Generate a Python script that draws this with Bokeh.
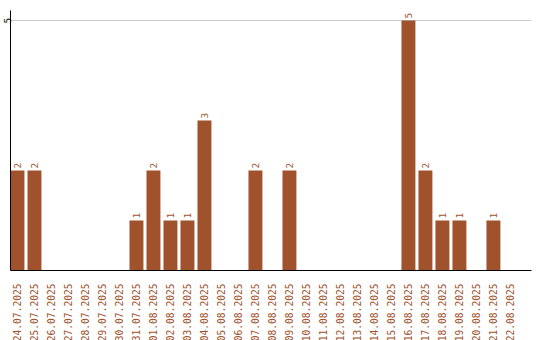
import math
from bokeh.plotting import figure
from bokeh.models import ColumnDataSource, FixedTicker, Range1d
from bokeh.core.properties import value
from bokeh.embed import file_html
from bokeh.resources import INLINE

dates = ["24.07.2025", "25.07.2025", "26.07.2025", "27.07.2025", "28.07.2025",
         "29.07.2025", "30.07.2025", "31.07.2025", "01.08.2025", "02.08.2025",
         "03.08.2025", "04.08.2025", "05.08.2025", "06.08.2025", "07.08.2025",
         "08.08.2025", "09.08.2025", "10.08.2025", "11.08.2025", "12.08.2025",
         "13.08.2025", "14.08.2025", "15.08.2025", "16.08.2025", "17.08.2025",
         "18.08.2025", "19.08.2025", "20.08.2025", "21.08.2025", "22.08.2025"]
counts = [2, 2, 0, 0, 0, 0, 0, 1, 2, 1, 1, 3, 0, 0, 2, 0, 2, 0, 0, 0,
          0, 0, 0, 5, 2, 1, 1, 0, 1, 0]
y_ticks = [5]

BAR = "#A0522D"
FONT = "DejaVu Sans Mono"

idx = list(range(len(dates)))
src = ColumnDataSource(dict(x=idx, y=counts))
lab_x = [i for i, c in zip(idx, counts) if c > 0]
lab_y = [c for c in counts if c > 0]
lab_src = ColumnDataSource(dict(x=lab_x, y=lab_y, t=[str(c) for c in lab_y]))

p = figure(frame_width=521, frame_height=260, output_backend="svg", toolbar_location=None,
           x_range=Range1d(-0.41, 30.24), y_range=Range1d(0, 5.2),
           min_border_left=0, min_border_right=9, min_border_top=10, min_border_bottom=60)
p.outline_line_color = None
p.background_fill_color = "white"
p.border_fill_color = "white"

p.vbar(x="x", top="y", width=0.82, bottom=0, source=src, fill_color=BAR, line_color=None)
p.text(x="x", y="y", text="t", source=lab_src, angle=math.pi / 2,
       text_align="left", text_baseline="middle", y_offset=-2,
       text_color=BAR, text_font=value(FONT), text_font_size="9.5px")

p.xgrid.grid_line_color = None
p.ygrid.grid_line_color = "#cccccc"
p.ygrid.ticker = FixedTicker(ticks=y_ticks)

xa = p.xaxis[0]
xa.ticker = FixedTicker(ticks=idx)
xa.major_label_overrides = {i: d for i, d in zip(idx, dates)}
xa.major_label_orientation = math.pi / 2
xa.major_label_text_color = BAR
xa.major_label_text_font = FONT
xa.major_label_text_font_size = "9.6px"
xa.major_tick_line_color = None
xa.minor_tick_line_color = None
xa.major_label_standoff = 7
xa.axis_line_color = "black"

ya = p.yaxis[0]
ya.ticker = FixedTicker(ticks=y_ticks)
ya.major_label_orientation = "parallel"
ya.major_label_text_color = "black"
ya.major_label_text_font = FONT
ya.major_label_text_font_size = "9.5px"
ya.major_tick_line_color = None
ya.minor_tick_line_color = None
ya.major_tick_out = 0
ya.major_tick_in = 0
ya.major_label_standoff = 0
ya.axis_line_color = "black"

open("out.html", "w").write(file_html(p, INLINE))
